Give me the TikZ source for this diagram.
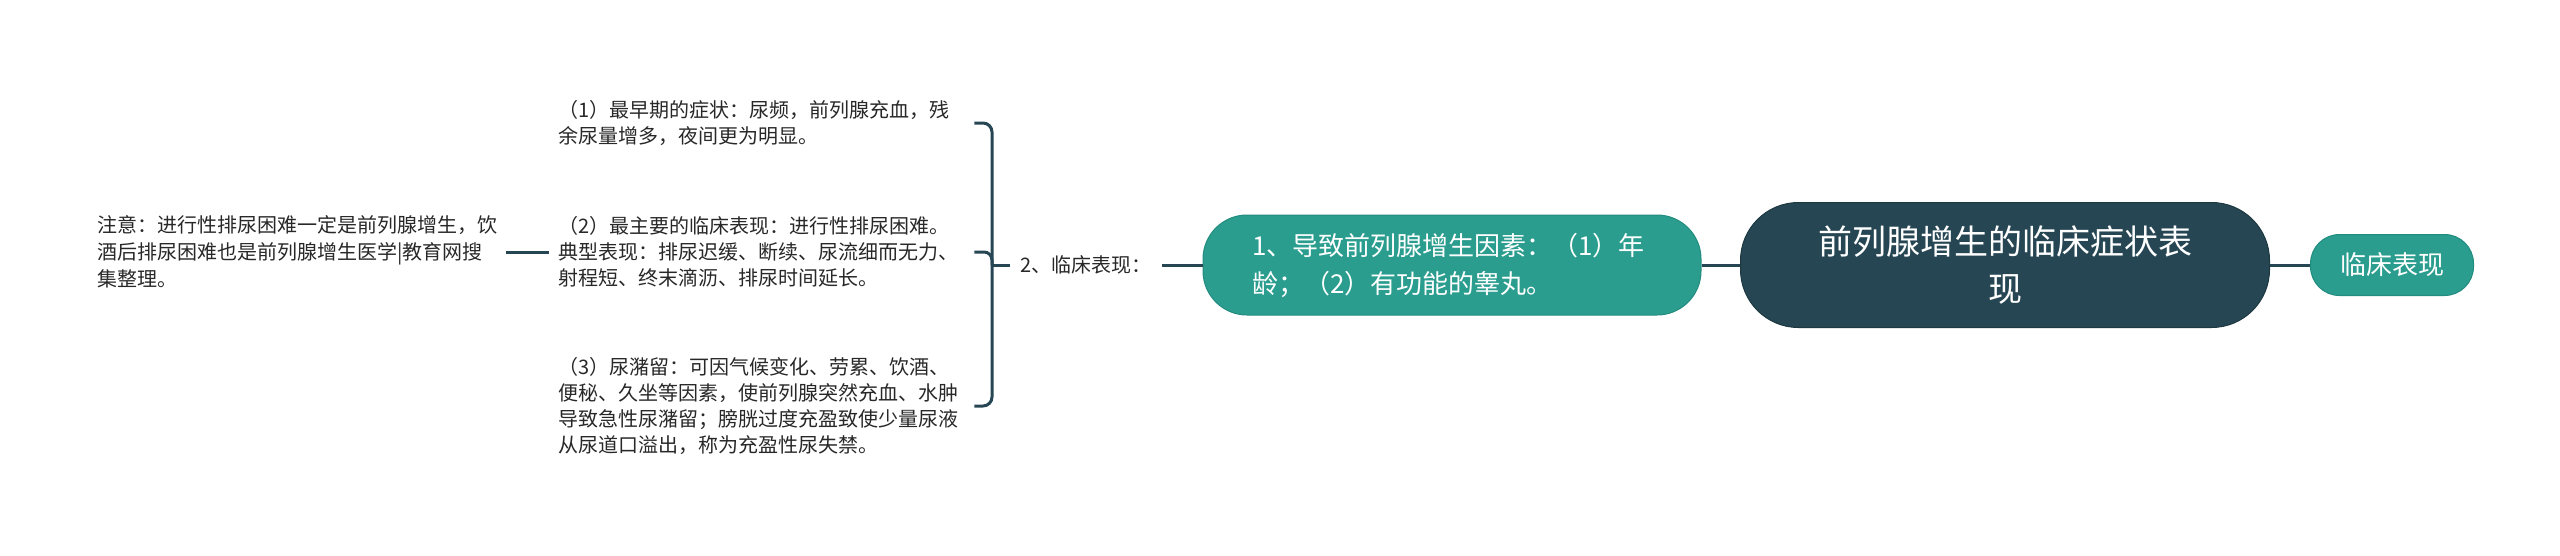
\documentclass[tikz,border=0pt]{standalone}
\usepackage{fontspec}
\setmainfont{Noto Sans CJK SC}
\definecolor{dk}{RGB}{38,70,83}
\definecolor{tl}{RGB}{42,157,143}
\definecolor{tlb}{RGB}{34,140,127}
\definecolor{tx}{RGB}{40,40,40}
\begin{document}
\begin{tikzpicture}[x=1pt,y=-1pt,
  conn/.style={draw=dk,line width=3pt},
  leaf/.style={anchor=west,inner xsep=9pt,inner ysep=0pt,text width=407pt,align=left,text=tx,font=\fontsize{20}{25.7}\selectfont},
  notebox/.style={anchor=west,inner xsep=9pt,inner ysep=0pt,align=left,text=tx,font=\fontsize{20}{27}\selectfont},
  midlabel/.style={anchor=west,inner xsep=10pt,inner ysep=0pt,text=tx,font=\fontsize{20}{24}\selectfont},
  subbox/.style={fill=tl,draw=tlb,line width=1pt,rounded corners=44pt,text=white,align=left,text width=400pt,inner xsep=49pt,minimum height=100pt,font=\fontsize{26}{38}\selectfont},
  rootbox/.style={fill=dk,draw=dk!80!black,line width=1pt,rounded corners=58pt,text=white,align=center,text width=400pt,minimum width=529pt,minimum height=125pt,font=\fontsize{34}{47}\selectfont},
  topicbox/.style={fill=tl,draw=tlb,line width=1pt,rounded corners=29pt,text=white,minimum width=163pt,minimum height=61pt,font=\fontsize{26}{30}\selectfont}]
\useasboundingbox (0,0) rectangle (2560,555);
\node[rootbox] (root) at (2005,265) {前列腺增生的临床症状表\\现};
\node[topicbox] (topic) at (2392,265) {临床表现};
\node[subbox] (sub) at (1452,265) {1、导致前列腺增生因素：（1）年\\龄；（2）有功能的睾丸。};
\node[midlabel] (mid) at (1010,265) {2、临床表现：};
\coordinate (j) at (992,265);
\node[leaf] (l1) at (549,123) {（1）最早期的症状：尿频，前列腺充血，残\\余尿量增多，夜间更为明显。};
\node[leaf] (l2) at (549,252) {（2）最主要的临床表现：进行性排尿困难。\\典型表现：排尿迟缓、断续、尿流细而无力、\\射程短、终末滴沥、排尿时间延长。};
\node[leaf] (l3) at (549,406) {（3）尿潴留：可因气候变化、劳累、饮酒、\\便秘、久坐等因素，使前列腺突然充血、水肿\\导致急性尿潴留；膀胱过度充盈致使少量尿液\\从尿道口溢出，称为充盈性尿失禁。};
\node[notebox] (note) at (88,252) {注意：进行性排尿困难一定是前列腺增生，饮\\酒后排尿困难也是前列腺增生医学|教育网搜\\集整理。};
\draw[conn] (root.east) -- (topic.west);
\draw[conn] (root.west) -- (sub.east);
\draw[conn] (sub.west) -- (mid.east);
\draw[conn] (j) -- (mid.west);
\draw[conn,rounded corners=9pt] (l1.east) -| (j);
\draw[conn,rounded corners=9pt] (l3.east) -| (j);
\draw[conn,rounded corners=8pt] (l2.east) -| (j);
\draw[conn] (note.east) -- (l2.west);
\end{tikzpicture}
\end{document}
